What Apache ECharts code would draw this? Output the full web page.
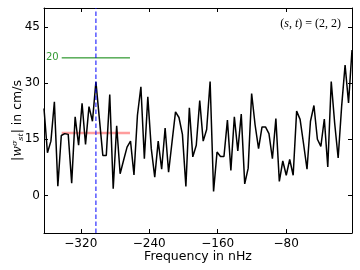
<!DOCTYPE html>
<html><head><meta charset="utf-8">
<script src="https://cdn.jsdelivr.net/npm/echarts@6/dist/echarts.min.js"></script>
<style>html,body{margin:0;padding:0;background:#fff}#c{width:360px;height:270px}</style>
</head><body><div id="c"></div>
<script>
// ---- data ----
const freqStart = -363;          // nHz, first frequency bin
const freqStep = 4.045;          // nHz, bin spacing
const amplitude = [
  23.2, 11.4, 14.5, 25.0, 2.5, 16.0, 16.5, 16.3, 3.3, 21.0,
  13.4, 24.6, 13.6, 23.7, 19.8, 30.3, 20.5, 10.7, 10.7, 26.9,
  1.8, 18.6, 5.8, 9.4, 12.9, 14.5, 5.5, 21.4, 29.0, 9.8,
  26.3, 12.5, 4.9, 14.5, 7.0, 18.0, 6.2, 14.3, 22.3, 20.8,
  16.3, 2.4, 23.4, 10.3, 13.4, 25.3, 14.5, 17.6, 30.4, 1.1,
  11.6, 10.4, 10.4, 20.1, 6.7, 21.0, 11.9, 21.7, 3.1, 7.3,
  27.2, 18.8, 12.5, 18.3, 18.3, 16.5, 9.8, 20.5, 3.75, 9.2,
  5.4, 9.6, 5.4, 22.5, 20.3, 13.8, 7.0, 19.8, 24.0, 15.0,
  13.1, 20.4, 7.6, 30.4, 19.2, 10.0, 23.7, 34.8, 24.7, 38.8
];
const xTicks = [-320, -240, -160, -80];
const yTicks = [0, 15, 30, 45];
const xRange = [-363, -3];
const yRange = [-10, 50];
const markerFreq = -302.3;               // dashed vertical line
const greenLevel = 36.7, greenLabel = '20';
const redLevel = 16.7;
const hlineSpan = [-342.3, -262.5];
const annotation = ['s', 't', '2', '2'];

// ---- chart ----
const lineData = amplitude.map((v, i) => [freqStart + i * freqStep, v]);
const fmtNum = v => (v < 0 ? '\u2212' + Math.abs(v) : String(v));
const axisCommon = {
  axisLine: {onZero: false, lineStyle: {color: '#000', width: 1}},
  splitLine: {show: false},
};
const chart = echarts.init(document.getElementById('c'), null, {renderer: 'canvas'});
chart.setOption({
  animation: false,
  grid: {left: 44, right: 8, top: 8, bottom: 37, containLabel: false, outerBoundsMode: 'none'},
  xAxis: [
    Object.assign({
      type: 'value', min: xRange[0], max: xRange[1], position: 'bottom',
      axisTick: {inside: true, length: 4, customValues: xTicks, lineStyle: {color: '#000'}},
      axisLabel: {customValues: xTicks, formatter: fmtNum, color: '#000', fontFamily: 'DejaVu Sans', fontSize: 12, margin: 5},
      name: 'Frequency in nHz', nameLocation: 'middle', nameGap: 17, nameMoveOverlap: false,
      nameTextStyle: {fontFamily: 'DejaVu Sans', fontSize: 12.5, color: '#000'}
    }, axisCommon),
    Object.assign({
      type: 'value', min: xRange[0], max: xRange[1], position: 'top',
      axisTick: {inside: true, length: 4, customValues: xTicks, lineStyle: {color: '#000'}},
      axisLabel: {show: false}
    }, axisCommon)
  ],
  yAxis: [
    Object.assign({
      type: 'value', min: yRange[0], max: yRange[1], position: 'left',
      axisTick: {inside: true, length: 4, customValues: yTicks, lineStyle: {color: '#000'}},
      axisLabel: {customValues: yTicks, formatter: fmtNum, color: '#000', fontFamily: 'DejaVu Sans', fontSize: 12, margin: 4},
      name: '|{i|w}{sup|σ}{sub|st}| in cm/s', nameLocation: 'middle', nameGap: 19, nameRotate: 90, nameMoveOverlap: false,
      nameTextStyle: {
        fontFamily: 'DejaVu Sans', fontSize: 12.5, color: '#000',
        rich: {
          i: {fontFamily: 'DejaVu Serif', fontStyle: 'italic', fontSize: 12.5, color: '#000'},
          sup: {fontFamily: 'DejaVu Serif', fontStyle: 'italic', fontSize: 8, color: '#000', verticalAlign: 'top', lineHeight: 14},
          sub: {fontFamily: 'DejaVu Serif', fontStyle: 'italic', fontSize: 8, color: '#000', verticalAlign: 'bottom', lineHeight: 14}
        }
      }
    }, axisCommon),
    Object.assign({
      type: 'value', min: yRange[0], max: yRange[1], position: 'right',
      axisTick: {inside: true, length: 4, customValues: yTicks, lineStyle: {color: '#000'}},
      axisLabel: {show: false}
    }, axisCommon)
  ],
  graphic: [{
    type: 'text', right: 19, top: 18,
    style: {
      text: '({i|' + annotation[0] + '}, {i|' + annotation[1] + '}) = (' + annotation[2] + ', ' + annotation[3] + ')',
      font: '12px "Liberation Serif"', fill: '#000',
      rich: {i: {fontFamily: 'Liberation Serif', fontStyle: 'italic', fontSize: 12, color: '#000'}}
    }
  }],
  series: [
    {type: 'line', data: [[hlineSpan[0], redLevel], [hlineSpan[1], redLevel]], showSymbol: false,
     lineStyle: {color: 'rgba(255,60,60,0.5)', width: 2.5}, z: 1, silent: true},
    {type: 'line', data: [[hlineSpan[0], greenLevel], [hlineSpan[1], greenLevel]], showSymbol: false,
     lineStyle: {color: '#008000', width: 1}, z: 2, silent: true},
    {type: 'scatter', data: [[hlineSpan[0], greenLevel]], symbolSize: 0,
     label: {show: true, position: 'left', distance: 3, formatter: greenLabel, color: '#008000', fontFamily: 'DejaVu Sans', fontSize: 10}},
    {type: 'line', data: lineData, showSymbol: false, lineStyle: {color: '#000', width: 1.5}, z: 3},
    {type: 'line', data: [[markerFreq, yRange[0]], [markerFreq, yRange[1]]], showSymbol: false,
     lineStyle: {color: '#0000ff', width: 1, type: [4.5, 2.5]}, z: 4, silent: true}
  ]
});
</script></body></html>
